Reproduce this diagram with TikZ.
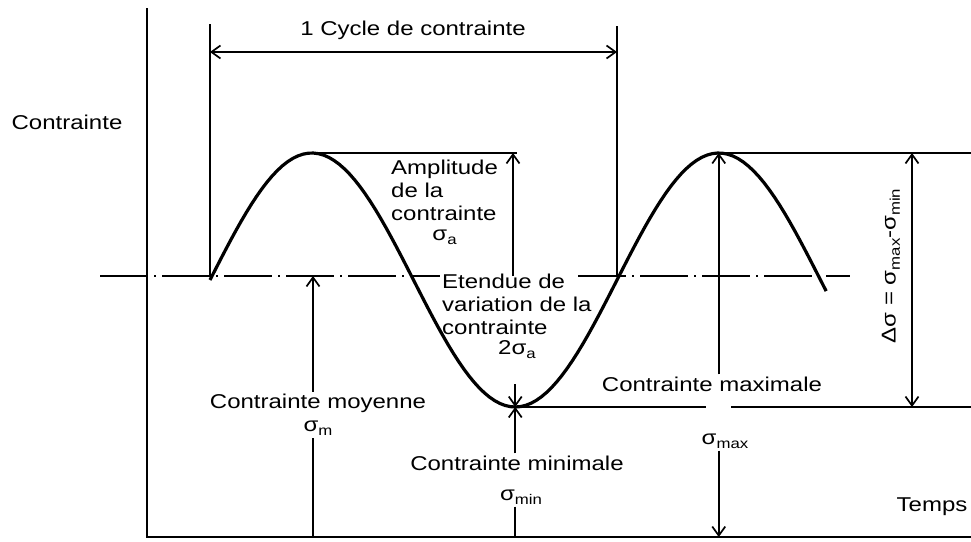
\documentclass[tikz,border=0pt]{standalone}
\usepackage{fontspec}
\setmainfont{Liberation Sans}[FakeStretch=1.2]
\usetikzlibrary{arrows.meta,positioning}
\newcommand{\indice}[1]{\raisebox{-0.4ex}{\fontsize{14}{14}\selectfont #1}}

\begin{document}
\begin{tikzpicture}[x=1pt,y=-1pt,
  courbe/.style={line width=3.2pt,line join=round},
  axe/.style={line width=2.6pt},
  trait/.style={line width=1.7pt},
  fleche/.style={trait,-{Straight Barb[length=9pt,width=13pt]}},
  cote/.style={trait,{Straight Barb[length=9pt,width=13pt]}-{Straight Barb[length=9pt,width=13pt]}},
  etiquette/.style={font=\fontsize{20}{23}\selectfont,inner sep=2pt},
  moyenne/.style={trait,dash pattern=on 48pt off 6pt on 2pt off 6pt}]
  \useasboundingbox (0,0) rectangle (971,541);
  % Axes contrainte / temps
  \coordinate (haut) at (147,8);
  \coordinate (origine) at (147,537);
  \coordinate (fin) at (971,537);
  \draw[axe] (haut) -- (origine) -- (fin);
  % Points remarquables de la sinusoide (periode 407, amplitude 127)
  \coordinate (debut) at (210,276);
  \coordinate (pic1) at (311.75,153);
  \coordinate (creux) at (515.25,407);
  \coordinate (retour) at (617,276);
  \coordinate (pic2) at (718.75,153);
  % Ligne de la contrainte moyenne, coupee par le texte
  \coordinate (m1) at (100,276);
  \coordinate (m2) at (440,276);
  \coordinate (m3) at (578,276);
  \coordinate (m4) at (850,276);
  \draw[moyenne] (m1) -- (m2);
  \draw[moyenne] (m3) -- (m4);
  % Un cycle complet
  \coordinate (c1) at (210,52);
  \coordinate (c2) at (617,52);
  \draw[trait,line width=2.1pt] (210,24) -- (debut);
  \draw[trait,line width=2.1pt] (617,26) -- (retour);
  \draw[cote] (c1) -- (c2);
  \node[etiquette] (cycle) at (413,30) {1 Cycle de contrainte};
  % Amplitude
  \coordinate (a1) at (517,153);
  \coordinate (a0) at (513,276);
  \draw[trait] (pic1) -- (a1);
  \draw[fleche] (a0) -- (a0 |- a1);
  \node[etiquette,anchor=west,align=left] (amplitude) at (389,190) {Amplitude\\de la\\contrainte};
  \node[etiquette,below=5pt of amplitude] (sa) {σ\indice{a}};
  % Etendue de variation
  \node[etiquette,anchor=west,align=left] (etendue) at (440,304) {Etendue de\\variation de la\\contrainte};
  \node[etiquette,below=2pt of etendue] (deuxsa) {2σ\indice{a}};
  \draw[courbe] plot[domain=0:545,samples=120] ({210+1.13056*\x},{280-127*sin(\x)});
  % Contrainte moyenne
  \coordinate (axm) at (313,276);
  \node[etiquette,align=center] (smoy) at (318,415) {Contrainte moyenne\\σ\indice{m}};
  \draw[fleche] (smoy.north -| axm) -- (axm);
  \draw[trait] (smoy.south -| axm) -- (axm |- origine);
  % Contrainte minimale
  \node[etiquette] (smin) at (517,463) {Contrainte minimale};
  \node[etiquette] (vmin) at (521,497) {σ\indice{min}};
  \draw[fleche] (515.25,384) -- (creux);
  \draw[fleche] (smin.north -| creux) -- (creux);
  \draw[trait] (vmin.south -| creux) -- (creux |- origine);
  % Contrainte maximale
  \node[etiquette] (smax) at (712,384) {Contrainte maximale};
  \node[etiquette] (vmax) at (725,441) {σ\indice{max}};
  \draw[fleche] (smax.north -| pic2) -- (pic2);
  \draw[fleche] (vmax.south -| pic2) -- (pic2 |- origine);
  % Niveaux max et min, etendue a droite
  \coordinate (coupe1) at (706,407);
  \coordinate (coupe2) at (731,407);
  \coordinate (bordbas) at (971,407);
  \coordinate (bordhaut) at (971,153);
  \draw[trait,line width=2.2pt] (creux) -- (coupe1);
  \draw[trait,line width=2.2pt] (coupe2) -- (bordbas);
  \draw[trait,line width=2.2pt] (pic2) -- (bordhaut);
  \coordinate (dh) at (912,153);
  \coordinate (db) at (912,407);
  \draw[cote] (dh) -- (db);
  \node[etiquette,rotate=90] (delta) at (891,266) {Δσ = σ\indice{max}-σ\indice{min}};
  % Libelles des axes
  \node[etiquette] (contrainte) at (67,122) {Contrainte};
  \node[etiquette] (temps) at (932,507) {Temps};
\end{tikzpicture}
\end{document}
